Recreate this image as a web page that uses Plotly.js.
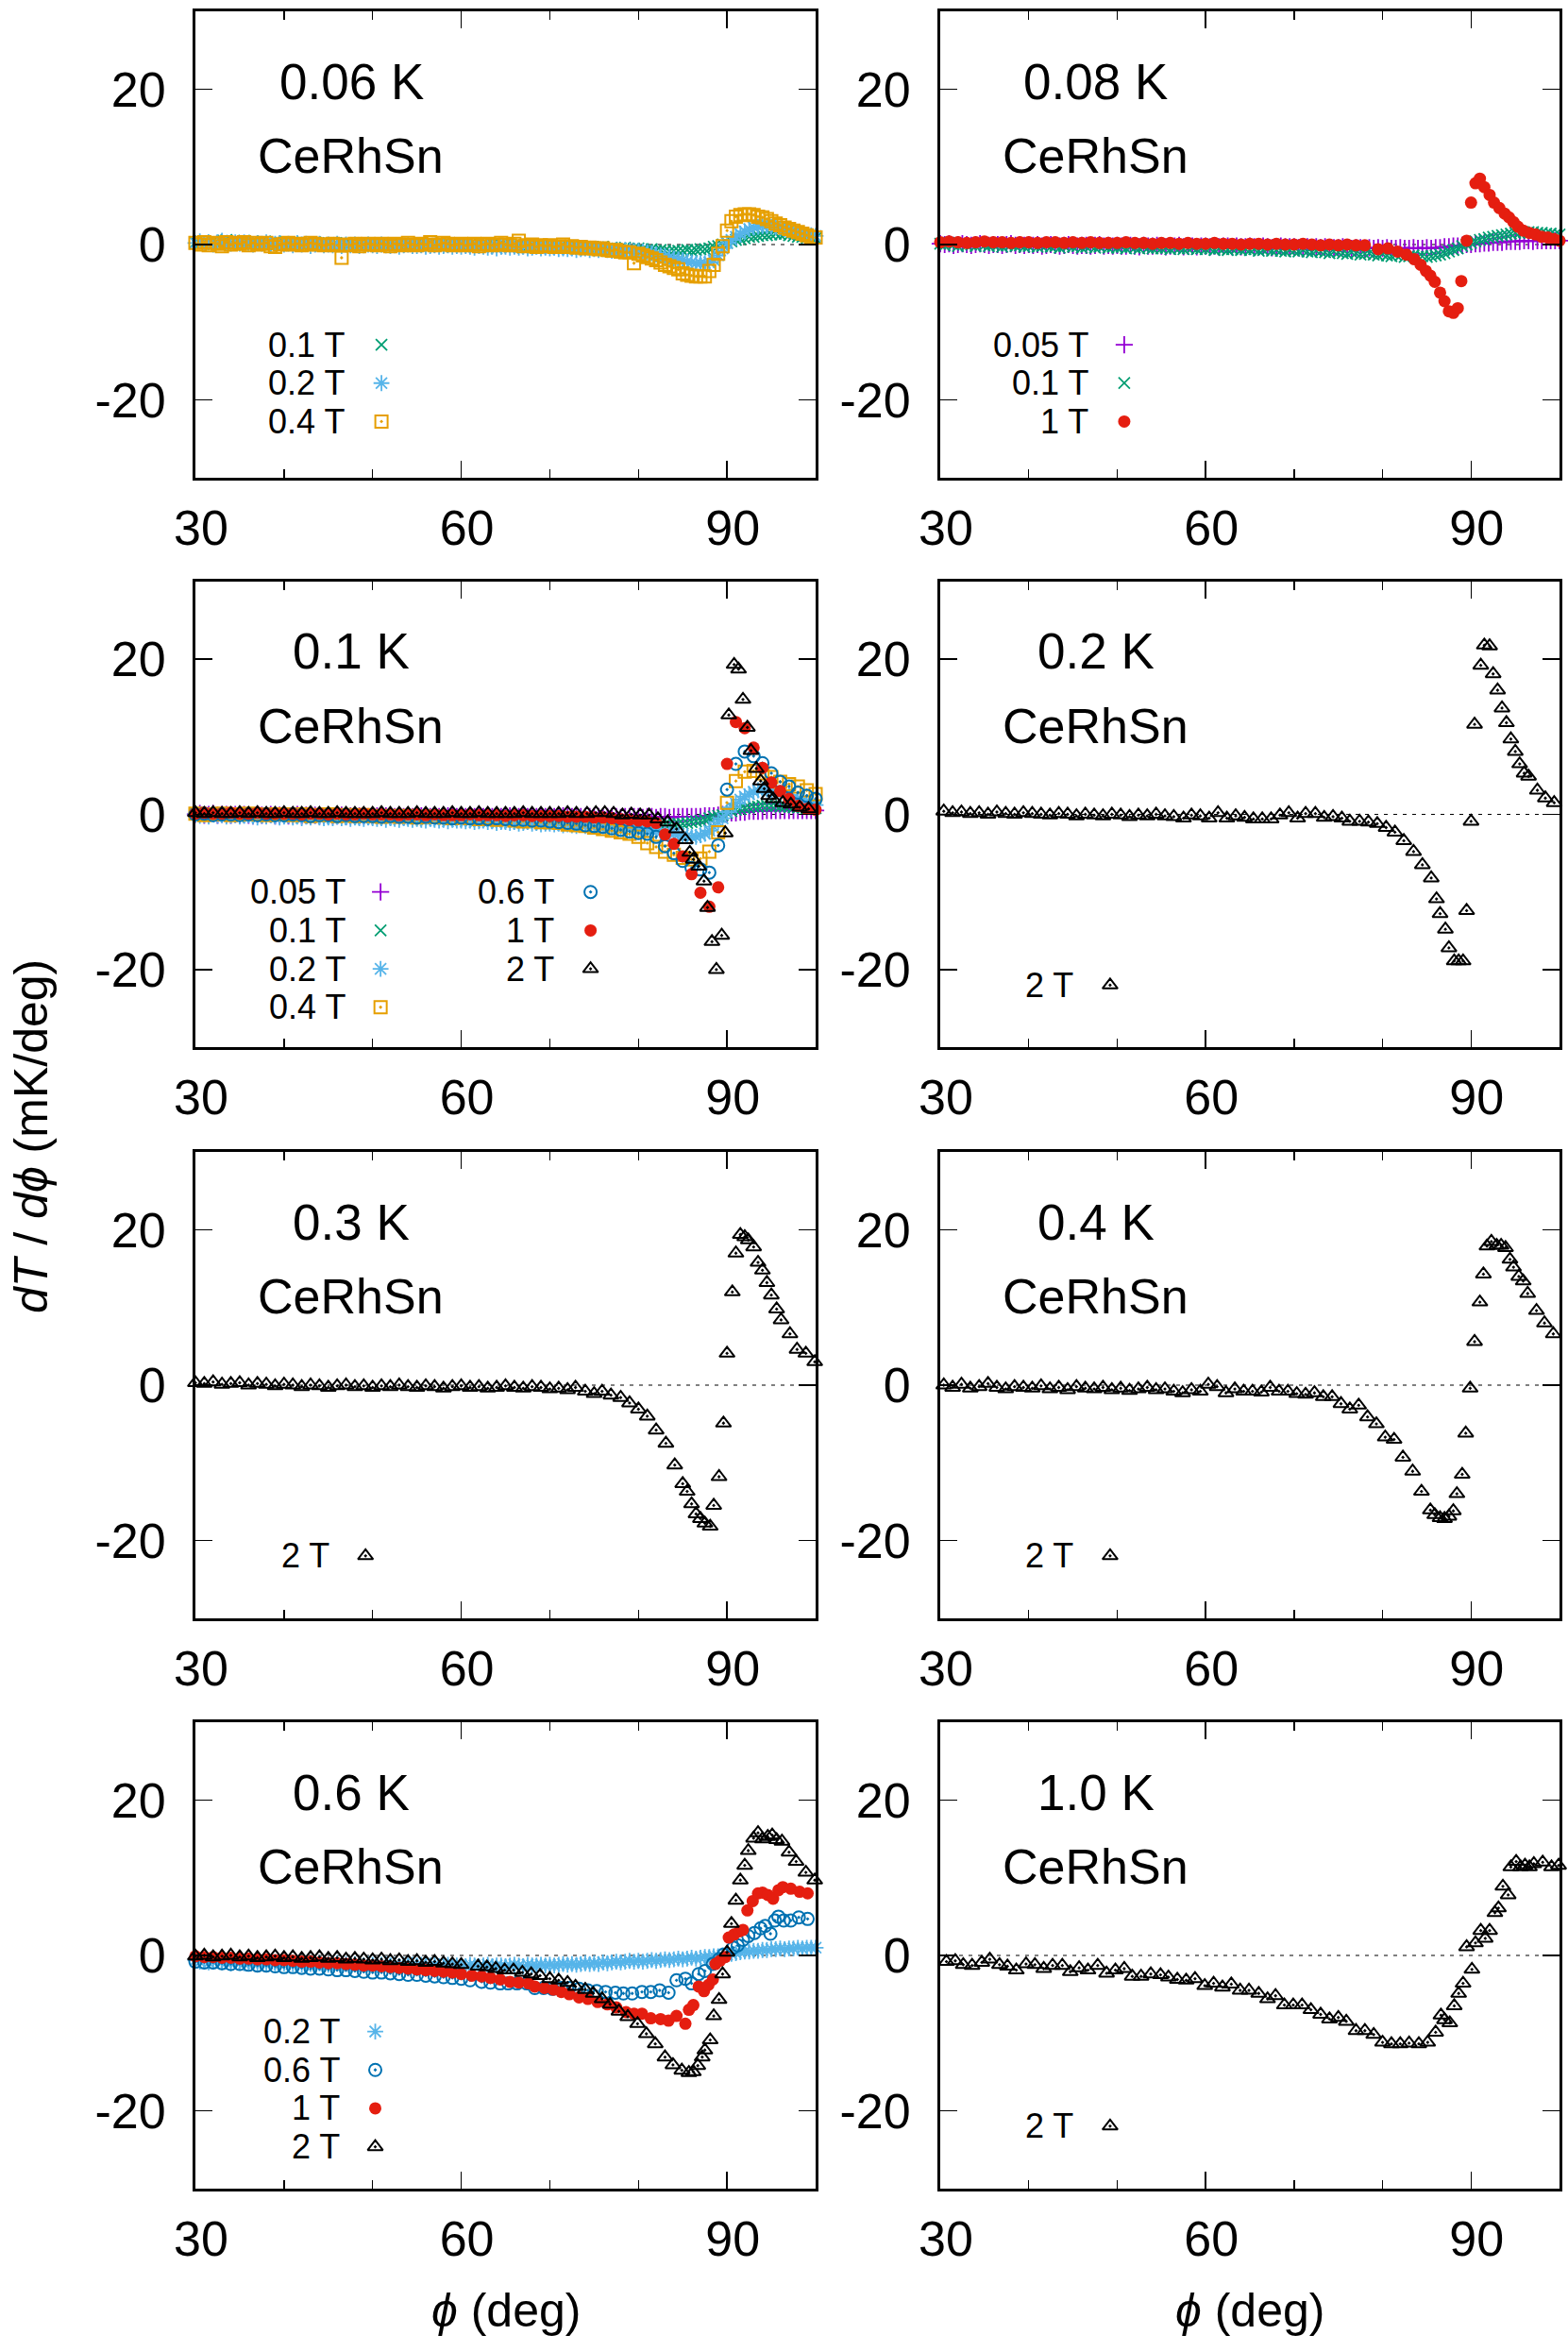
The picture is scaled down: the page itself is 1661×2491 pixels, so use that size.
<!DOCTYPE html>
<html>
<head>
<meta charset="utf-8">
<script src="https://cdn.plot.ly/plotly-3.0.1.min.js"></script>
<style>
  html, body { margin: 0; padding: 0; background: #fff; }
  #gd { width: 1661px; height: 2491px; }
</style>
</head>
<body>
<div id="gd"></div>
<script>
// ---------------- angle grids (deg) ----------------
const phiFine = [
  30,30.5,31,31.5,32,32.5,33,33.5,34,34.5, 35,35.5,36,36.5,37,37.5,38,38.5,39,39.5,
  40,40.5,41,41.5,42,42.5,43,43.5,44,44.5, 45,45.5,46,46.5,47,47.5,48,48.5,49,49.5,
  50,50.5,51,51.5,52,52.5,53,53.5,54,54.5, 55,55.5,56,56.5,57,57.5,58,58.5,59,59.5,
  60,60.5,61,61.5,62,62.5,63,63.5,64,64.5, 65,65.5,66,66.5,67,67.5,68,68.5,69,69.5,
  70,70.5,71,71.5,72,72.5,73,73.5,74,74.5, 75,75.5,76,76.5,77,77.5,78,78.5,79,79.5,
  80,80.5,81,81.5,82,82.5,83,83.5,84,84.5, 85,85.5,86,86.5,87,87.5,88,88.5,89,89.5,
  90,90.5,91,91.5,92,92.5,93,93.5,94,94.5, 95,95.5,96,96.5,97,97.5,98,98.5,99,99.5,
  100];
const phiCoarse = [
  30,31,32,33,34,35,36,37,38,39, 40,41,42,43,44,45,46,47,48,49,
  50,51,52,53,54,55,56,57,58,59, 60,61,62,63,64,65,66,67,68,69,
  70,71,72,73,74,75,76,77,78,79, 80,81,82,83,84,85,86,87,88,89,
  90,91,92,93,94,95,96,97,98,99, 100];

// ---------------- 0.06 K ----------------
const t006_b01 = [
  0.3,0.1,0.4,0.2,0.5,0.1,0.3,0.6,0.2,0.4, 0.3,0.5,0.1,0.4,0.2,0.3,0.0,0.2,0.4,0.1,
  0.2,0.0,0.3,0.1,-0.1,0.2,0.1,0.3,0.0,0.1, 0.2,-0.1,0.1,0.0,0.2,0.1,-0.1,0.0,0.2,0.1,
  0.0,0.1,-0.1,0.1,0.0,-0.2,0.1,0.0,-0.1,0.0, 0.1,-0.1,0.0,-0.2,0.0,-0.1,0.1,-0.1,-0.2,0.0,
  -0.1,-0.2,0.0,-0.1,-0.2,-0.1,0.0,-0.2,-0.3,-0.1, -0.2,-0.3,-0.1,-0.2,-0.4,-0.2,-0.3,-0.1,-0.3,-0.2,
  -0.3,-0.2,-0.4,-0.3,-0.2,-0.4,-0.3,-0.5,-0.3,-0.4, -0.4,-0.5,-0.3,-0.5,-0.4,-0.6,-0.5,-0.4,-0.6,-0.5,
  -0.5,-0.6,-0.7,-0.6,-0.8,-0.7,-0.8,-0.9,-0.8,-0.8, -0.8,-0.7,-0.8,-0.7,-0.6,-0.6,-0.5,-0.3,-0.2,0.0,
  0.2,0.4,0.6,0.7,0.8,1.0,1.0,1.1,1.2,1.2, 1.3,1.4,1.3,1.4,1.2,1.1,1.0,1.0,0.9,0.8,
  0.8];
const t006_b02 = [
  0.2,0.4,0.1,0.3,0.0,0.3,0.5,0.2,0.1,0.3, 0.1,0.3,0.2,0.0,0.2,0.1,0.3,0.0,0.1,0.2,
  0.0,0.1,-0.1,0.2,0.0,0.1,-0.2,0.0,0.1,-0.1, 0.0,-0.1,0.1,-0.2,0.0,-0.1,0.0,-0.2,-0.1,0.0,
  -0.1,-0.2,0.0,-0.1,-0.2,-0.1,-0.3,-0.1,0.0,-0.2, -0.2,-0.1,-0.3,-0.2,-0.1,-0.3,-0.2,-0.1,-0.3,-0.2,
  -0.3,-0.2,-0.3,-0.4,-0.2,-0.3,-0.4,-0.3,-0.5,-0.3, -0.3,-0.4,-0.3,-0.4,-0.3,-0.5,-0.4,-0.3,-0.5,-0.4,
  -0.5,-0.4,-0.6,-0.5,-0.6,-0.5,-0.7,-0.6,-0.5,-0.7, -0.6,-0.7,-0.6,-0.7,-0.8,-0.7,-0.8,-0.7,-0.8,-0.8,
  -0.8,-0.9,-1.0,-1.1,-1.3,-1.4,-1.5,-1.6,-1.8,-1.9, -2.0,-2.2,-2.3,-2.4,-2.4,-2.4,-2.3,-2.0,-1.4,-0.5,
  0.2,0.6,1.0,1.4,1.7,2.0,2.2,2.3,2.4,2.4, 2.3,2.2,2.1,2.0,1.8,1.7,1.6,1.4,1.3,1.2,
  1.1];
const t006_b04 = [
  0.2,0.0,0.3,-0.1,0.2,0.1,-0.2,0.3,0.0,0.2, 0.1,0.3,-0.1,0.2,0.0,0.1,0.2,-0.2,-0.3,0.0,
  0.1,0.2,0.0,0.1,-0.1,0.0,0.2,0.1,0.0,-0.1, 0.0,0.1,-0.1,-1.7,0.0,-0.1,0.1,-0.2,0.0,0.1,
  0.0,-0.1,0.1,0.0,-0.2,0.1,0.0,-0.1,0.2,0.0, -0.1,0.1,0.0,0.3,-0.1,0.0,0.2,0.1,-0.1,0.0,
  0.1,-0.1,0.0,0.1,-0.2,0.0,0.1,-0.1,0.0,0.2, 0.0,-0.1,0.1,0.5,-0.2,-0.1,0.0,-0.3,-0.1,-0.2,
  -0.1,-0.3,-0.2,0.0,-0.3,-0.2,-0.4,-0.3,-0.5,-0.4, -0.5,-0.6,-0.5,-0.7,-0.8,-0.7,-0.9,-1.0,-1.0,-2.4,
  -1.2,-1.4,-1.6,-1.8,-2.0,-2.3,-2.6,-2.8,-3.0,-3.2, -3.7,-3.9,-4.0,-4.1,-4.1,-4.1,-3.4,-2.6,-1.2,-0.2,
  1.8,3.0,3.6,3.8,3.9,3.9,3.8,3.6,3.5,3.3, 3.0,2.7,2.5,2.2,2.0,1.8,1.6,1.4,1.2,1.0,
  0.9];

// ---------------- 0.08 K ----------------
const t008_b005 = [
  0.1,0.0,0.1,-0.1,0.0,0.1,0.0,-0.1,0.0,0.1, 0.0,-0.1,0.0,0.0,-0.1,0.0,0.1,-0.1,0.0,-0.1,
  0.0,-0.1,0.0,-0.2,-0.1,0.0,-0.1,-0.2,-0.1,0.0, -0.1,-0.2,-0.1,-0.1,-0.2,-0.1,0.0,-0.2,-0.1,-0.2,
  -0.1,-0.2,-0.2,-0.1,-0.2,-0.3,-0.1,-0.2,-0.2,-0.1, -0.2,-0.3,-0.2,-0.2,-0.1,-0.3,-0.2,-0.2,-0.3,-0.2,
  -0.2,-0.3,-0.2,-0.3,-0.2,-0.2,-0.3,-0.2,-0.3,-0.3, -0.2,-0.3,-0.3,-0.2,-0.3,-0.4,-0.3,-0.2,-0.3,-0.3,
  -0.3,-0.4,-0.3,-0.3,-0.4,-0.3,-0.4,-0.3,-0.4,-0.4, -0.4,-0.3,-0.4,-0.5,-0.4,-0.4,-0.5,-0.4,-0.5,-0.4,
  -0.5,-0.4,-0.5,-0.5,-0.4,-0.5,-0.5,-0.4,-0.5,-0.5, -0.4,-0.5,-0.4,-0.4,-0.3,-0.3,-0.2,-0.2,-0.1,0.0,
  0.0,0.1,0.1,0.2,0.2,0.3,0.3,0.3,0.4,0.4, 0.4,0.4,0.5,0.5,0.4,0.5,0.5,0.5,0.5,0.5,
  0.5];
const t008_b01 = [
  0.1,-0.1,0.2,0.0,-0.2,0.1,-0.1,0.0,-0.2,0.1, -0.1,-0.2,0.0,-0.1,-0.3,-0.1,0.0,-0.2,-0.1,-0.3,
  -0.2,-0.1,-0.3,-0.2,-0.1,-0.3,-0.2,-0.4,-0.2,-0.1, -0.3,-0.2,-0.4,-0.3,-0.2,-0.4,-0.3,-0.2,-0.4,-0.3,
  -0.4,-0.3,-0.5,-0.3,-0.4,-0.5,-0.3,-0.4,-0.5,-0.4, -0.5,-0.4,-0.6,-0.4,-0.5,-0.6,-0.5,-0.4,-0.6,-0.5,
  -0.6,-0.5,-0.7,-0.5,-0.6,-0.7,-0.6,-0.5,-0.7,-0.6, -0.7,-0.6,-0.8,-0.7,-0.6,-0.8,-0.7,-0.8,-0.9,-0.7,
  -0.8,-0.9,-0.7,-0.9,-1.0,-0.8,-0.9,-1.0,-1.1,-0.9, -1.0,-1.1,-1.2,-1.0,-1.1,-1.3,-1.2,-1.1,-1.3,-1.4,
  -1.2,-1.4,-1.5,-1.3,-1.4,-1.6,-1.5,-1.4,-1.6,-1.5, -1.6,-1.5,-1.4,-1.3,-1.1,-0.9,-0.7,-0.5,-0.2,0.0,
  0.2,0.4,0.6,0.7,0.9,1.0,1.1,1.2,1.3,1.4, 1.5,1.5,1.6,1.6,1.6,1.5,1.5,1.4,1.4,1.3,
  1.3];
const t008_b1_phi = [
  30,31,32,33,34,35,36,37,38,39, 40,41,42,43,44,45,46,47,48,49,
  50,51,52,53,54,55,56,57,58,59, 60,61,62,63,64,65,66,67,68,69,
  70,71,72,73,74,75,76,77,78,
  79.5,80.6,81.7,82.7,83.6,84.3,84.9,85.4,85.9,86.5, 87.0,87.5,88.0,88.5,88.9,89.5,90.0,90.5,91.0,91.5,
  92.1,92.6,93.2,93.8,94.3,94.8,95.3,95.9,96.6,97.3, 98.0,98.7,99.4,100.0];
const t008_b1 = [
  0.3,0.4,0.3,0.2,0.3,0.4,0.3,0.3,0.2,0.3, 0.3,0.2,0.3,0.3,0.2,0.3,0.2,0.3,0.2,0.2,
  0.2,0.3,0.2,0.2,0.1,0.2,0.2,0.1,0.2,0.1, 0.1,0.2,0.1,0.1,0.0,0.1,0.1,0.0,0.1,0.0,
  0.0,0.1,0.0,-0.1,0.0,-0.1,0.0,-0.1,-0.1,
  -0.6,-0.5,-0.9,-1.3,-1.9,-2.6,-3.4,-4.0,-4.8,-6.2, -7.3,-8.6,-8.8,-8.2,-4.7,0.5,5.4,7.9,8.5,7.4,
  6.4,5.4,4.7,4.0,3.5,2.9,2.3,1.8,1.5,1.3, 1.0,0.9,0.7,0.5];

// ---------------- 0.1 K ----------------
const t01_b005 = [
  0.0,0.1,-0.1,0.0,0.1,-0.1,0.0,0.0,-0.1,0.0, -0.1,0.0,-0.1,-0.2,0.0,-0.1,-0.1,0.0,-0.2,-0.1,
  -0.1,-0.2,-0.1,0.0,-0.2,-0.1,-0.2,-0.1,-0.2,-0.2, -0.1,-0.2,-0.2,-0.1,-0.3,-0.2,-0.1,-0.2,-0.2,-0.3,
  -0.2,-0.2,-0.3,-0.2,-0.2,-0.3,-0.2,-0.3,-0.2,-0.3, -0.3,-0.2,-0.3,-0.3,-0.2,-0.3,-0.3,-0.2,-0.3,-0.3,
  -0.3,-0.3,-0.2,-0.3,-0.3,-0.3,-0.2,-0.3,-0.3,-0.3, -0.3,-0.2,-0.3,-0.3,-0.3,-0.3,-0.2,-0.3,-0.3,-0.3,
  -0.3,-0.3,-0.3,-0.2,-0.3,-0.3,-0.3,-0.3,-0.3,-0.3, -0.3,-0.3,-0.4,-0.3,-0.3,-0.3,-0.4,-0.3,-0.3,-0.3,
  -0.3,-0.4,-0.3,-0.3,-0.4,-0.3,-0.3,-0.4,-0.3,-0.3, -0.3,-0.3,-0.3,-0.3,-0.3,-0.2,-0.2,-0.2,-0.1,0.0,
  0.1,0.2,0.2,0.3,0.3,0.4,0.4,0.4,0.4,0.5, 0.5,0.5,0.5,0.5,0.5,0.5,0.5,0.5,0.5,0.5,
  0.5];
const t01_b01 = [
  0.1,-0.1,0.0,-0.2,0.1,-0.1,0.0,-0.2,-0.1,0.0, -0.2,-0.1,-0.3,0.0,-0.2,-0.1,-0.3,-0.2,-0.1,-0.3,
  -0.2,-0.3,-0.1,-0.2,-0.4,-0.2,-0.3,-0.1,-0.3,-0.2, -0.3,-0.4,-0.2,-0.3,-0.2,-0.4,-0.3,-0.2,-0.4,-0.3,
  -0.3,-0.2,-0.4,-0.3,-0.4,-0.3,-0.2,-0.4,-0.3,-0.4, -0.3,-0.4,-0.3,-0.5,-0.3,-0.4,-0.4,-0.3,-0.5,-0.4,
  -0.4,-0.3,-0.5,-0.4,-0.4,-0.5,-0.4,-0.3,-0.5,-0.4, -0.5,-0.4,-0.5,-0.4,-0.6,-0.5,-0.4,-0.5,-0.6,-0.5,
  -0.5,-0.6,-0.5,-0.6,-0.7,-0.6,-0.5,-0.7,-0.6,-0.7, -0.7,-0.8,-0.7,-0.8,-0.9,-0.8,-0.9,-1.0,-0.9,-1.0,
  -1.0,-1.1,-1.1,-1.2,-1.2,-1.3,-1.3,-1.3,-1.3,-1.2, -1.2,-1.1,-1.0,-0.9,-0.8,-0.7,-0.5,-0.3,-0.2,-0.1,
  0.2,0.4,0.6,0.7,0.8,0.9,1.0,1.0,1.1,1.1, 1.1,1.1,1.0,1.0,1.0,0.9,0.9,0.9,0.8,0.8,
  0.8];
const t01_b02 = [
  0.0,-0.2,-0.1,-0.3,0.0,-0.2,-0.1,-0.3,-0.2,-0.1, -0.3,-0.2,-0.1,-0.3,-0.4,-0.2,-0.3,-0.1,-0.3,-0.4,
  -0.3,-0.2,-0.4,-0.3,-0.5,-0.3,-0.4,-0.2,-0.4,-0.5, -0.4,-0.5,-0.3,-0.5,-0.4,-0.6,-0.4,-0.5,-0.6,-0.4,
  -0.5,-0.6,-0.5,-0.7,-0.5,-0.6,-0.7,-0.5,-0.6,-0.7, -0.6,-0.7,-0.8,-0.6,-0.7,-0.8,-0.7,-0.9,-0.7,-0.8,
  -0.8,-0.9,-0.8,-1.0,-0.9,-0.8,-1.0,-0.9,-1.1,-1.0, -1.0,-1.1,-1.0,-1.2,-1.1,-1.0,-1.2,-1.1,-1.3,-1.2,
  -1.2,-1.3,-1.2,-1.4,-1.3,-1.4,-1.5,-1.3,-1.5,-1.4, -1.5,-1.6,-1.5,-1.7,-1.6,-1.7,-1.8,-1.7,-1.8,-1.9,
  -1.9,-2.0,-2.0,-2.1,-2.2,-2.3,-2.3,-2.4,-2.5,-2.6, -2.7,-2.8,-2.9,-2.9,-2.7,-2.5,-2.1,-1.6,-1.0,-0.5,
  0.3,0.9,1.4,1.9,2.3,2.6,2.9,3.1,3.2,3.2, 3.1,2.9,2.8,2.6,2.4,2.2,2.0,1.8,1.6,1.4,
  1.2];
const t01_b04 = [
  0.1,-0.1,0.0,0.1,-0.1,0.0,0.1,0.0,-0.1,0.0, 0.0,-0.1,0.0,-0.2,-0.1,0.0,-0.2,-0.1,-0.2,-0.1,
  -0.2,-0.3,-0.2,-0.3,-0.2,-0.4,-0.3,-0.3,-0.4,-0.5, -0.4,-0.5,-0.6,-0.5,-0.7,-0.6,-0.8,-0.9,-0.8,-1.0,
  -1.0,-1.1,-1.3,-1.4,-1.5,-1.7,-1.9,-2.1,-2.3,-2.5, -2.9,-3.7,-4.2,-4.8,-5.2,-5.6,-5.8,-5.7,-4.8,-2.3,
  1.5,4.3,5.5,5.6,5.3,4.8,4.2,3.9,3.6,3.1, 2.6];
const t01_b06 = [
  0.0,0.1,-0.1,0.0,0.0,-0.1,0.0,-0.1,0.0,-0.1, -0.1,0.0,-0.1,-0.2,-0.1,-0.1,-0.2,-0.1,-0.2,-0.2,
  -0.2,-0.3,-0.2,-0.3,-0.3,-0.4,-0.3,-0.4,-0.4,-0.5, -0.4,-0.5,-0.5,-0.6,-0.5,-0.6,-0.7,-0.7,-0.8,-0.8,
  -0.9,-1.0,-1.1,-1.2,-1.4,-1.5,-1.6,-1.8,-2.0,-2.2, -2.4,-2.5,-2.9,-4.1,-5.0,-6.0,-6.9,-7.1,-7.5,-4.0,
  3.2,6.5,8.1,7.5,6.6,5.3,4.2,3.6,2.8,2.4, 2.0];
const t01_b1 = [
  0.1,0.2,0.1,0.1,0.2,0.1,0.1,0.2,0.1,0.1, 0.1,0.1,0.0,0.1,0.1,0.0,0.1,0.0,0.0,0.1,
  0.0,0.0,0.0,-0.1,0.0,0.0,-0.1,0.0,-0.1,-0.1, -0.1,0.0,-0.1,-0.1,-0.1,-0.2,-0.1,-0.1,-0.2,-0.2,
  -0.2,-0.2,-0.3,-0.3,-0.3,-0.4,-0.4,-0.5,-0.6,-0.7, -0.8,-0.9,-1.1,-2.6,-3.8,-5.4,-7.7,-10.1,-11.9,-9.4,
  6.5,11.9,11.1,8.6,6.0,4.1,3.0,2.0,1.1,0.7, 0.6];
const t01_b2_phi = [
  30,31,32,33,34,35,36,37,38,39, 40,41,42,43,44,45,46,47,48,49,
  50,51,52,53,54,55,56,57,58,59, 60,61,62,63,64,65,66,67,68,69,
  70,71,72,73,
  74.2,75.2,76.2,77.2,78.2,79.2,80.2,81.2,82.2,83.3, 84.3,85.3,85.8,86.2,86.8,87.4,87.8,88.3,88.8,89.4,
  89.8,90.2,90.8,91.3,91.8,92.3,92.7,93.3,93.8,94.2, 94.7,95.2,96.3,97.2,98.2,99.2];
const t01_b2 = [
  0.2,0.1,0.2,0.1,0.1,0.2,0.1,0.2,0.1,0.1, 0.2,0.1,0.1,0.2,0.1,0.1,0.2,0.1,0.1,0.1,
  0.1,0.2,0.1,0.1,0.1,0.2,0.1,0.1,0.1,0.2, 0.1,0.1,0.2,0.1,0.1,0.1,0.1,0.2,0.1,0.1,
  0.1,0.1,0.2,0.1,
  0.1,0.2,0.2,0.1,-0.1,0.0,-0.1,-0.1,-0.6,-1.0, -1.9,-3.3,-4.9,-5.8,-6.7,-8.6,-12.0,-16.4,-20.0,-15.6,
  -2.4,12.8,19.3,18.7,14.8,11.2,8.2,5.9,4.3,3.3, 2.4,2.0,1.5,1.3,0.9,0.7];

// ---------------- 0.2 K ----------------
const t02_b2_phi = [
  30.4,31.4,32.4,33.4,34.4,35.4,36.4,37.4,38.4,39.4, 40.4,41.4,42.4,43.4,44.4,45.4,46.4,47.4,48.4,49.4,
  50.4,51.4,52.4,53.4,54.4,55.4,56.4,
  57.5,58.4,59.4,60.4,61.4,62.4,63.4,64.4,65.4,66.4, 67.4,68.4,69.4,70.4,71.3,72.4,73.4,74.4,75.4,76.3,
  77.4,78.4,79.4,80.4,81.4,82.4,83.5,84.5,85.5,86.1, 86.5,87.1,87.5,88.1,88.6,89.1,89.5,90.0,90.4,91.1,
  91.5,92.1,92.5,93.0,93.5,94.0,94.5,95.0,95.5,96.0, 96.5,97.5,98.4,99.4];
const t02_b2 = [
  0.4,0.2,0.3,0.1,0.2,0.0,0.3,0.1,0.0,0.2, 0.1,0.0,-0.1,0.1,0.0,-0.2,0.0,-0.1,-0.2,0.0,
  -0.1,-0.3,-0.1,-0.2,0.0,-0.2,-0.3,
  -0.5,-0.1,-0.2,-0.5,0.2,-0.5,-0.2,-0.4,-0.6,-0.6, -0.6,-0.1,0.2,-0.5,0.1,0.1,-0.4,-0.3,-0.5,-0.9,
  -0.9,-1.0,-1.2,-1.7,-2.3,-3.4,-4.8,-6.5,-8.2,-10.9, -12.8,-14.8,-17.2,-18.9,-18.9,-18.9,-12.4,-0.9,11.6,19.2,
  21.8,21.7,18.1,16.0,13.7,11.8,9.7,8.1,6.5,5.3, 4.9,3.1,2.1,1.5];

// ---------------- 0.3 K ----------------
const t03_b2_phi = [
  30,31,32,33,34,35,36,37,38,39, 40,41,42,43,44,45,46,47,48,49,
  50,51,52,53,54,55,56,57,58,59, 60,61,62,63,64,65,66,67,68,69,
  70,71,
  72.0,72.9,74.0,75.0,75.9,76.9,78.0,79.0,80.0,81.0, 82.0,83.1,84.1,85.0,85.5,86.0,86.5,87.0,87.5,88.1,
  88.5,89.1,89.6,90.0,90.6,91.0,91.5,92.0,92.4,93.0, 93.5,94.0,94.5,95.0,95.6,96.1,97.1,97.9,98.9,99.9];
const t03_b2 = [
  0.3,0.2,0.4,0.1,0.2,0.3,0.0,0.2,0.1,-0.1, 0.1,0.0,-0.2,0.0,-0.1,-0.3,-0.1,0.0,-0.2,-0.1,
  -0.3,-0.1,-0.2,0.0,-0.2,-0.3,-0.1,-0.2,-0.4,-0.2, -0.1,-0.3,-0.2,-0.4,-0.3,-0.1,-0.3,-0.4,-0.2,-0.3,
  -0.5,-0.4,
  -0.6,-0.3,-0.8,-1.1,-0.8,-1.3,-1.6,-2.3,-3.1,-4.0, -5.8,-7.5,-10.3,-12.7,-13.7,-15.3,-16.6,-17.2,-17.8,-18.2,
  -15.5,-11.8,-4.9,4.1,12.0,17.0,19.4,19.1,18.7,17.8, 15.8,14.8,13.2,11.6,9.8,8.4,6.6,4.6,4.1,3.0];

// ---------------- 0.4 K ----------------
const t04_b2_phi = [
  30.4,31.4,32.4,33.4,34.4,35.4,36.4,37.4,38.4,39.4, 40.4,41.4,42.4,43.4,44.4,45.4,46.4,47.4,48.4,49.4,
  50.4,51.4,52.4,53.4,54.4,55.4,56.4,
  57.4,58.4,59.4,60.3,61.3,62.3,63.3,64.3,65.3,66.3, 67.3,68.3,69.3,70.3,71.3,72.3,73.3,74.3,75.3,76.3,
  77.3,78.3,79.3,80.3,81.3,82.3,83.4,84.4,85.4,85.9, 86.5,87.0,87.5,88.0,88.4,89.0,89.4,89.9,90.4,91.0,
  91.4,91.8,92.3,92.9,93.4,93.9,94.4,94.8,95.4,95.9, 96.4,97.4,98.3,99.3];
const t04_b2 = [
  0.0,-0.3,0.1,-0.4,-0.2,0.2,-0.3,-0.5,-0.2,-0.3, -0.4,-0.1,-0.5,-0.3,-0.6,-0.2,-0.4,-0.5,-0.3,-0.6,
  -0.4,-0.7,-0.5,-0.3,-0.6,-0.5,-0.8,
  -1.0,-0.6,-0.8,0.1,-0.2,-1.0,-0.5,-0.8,-0.8,-0.9, -0.3,-0.8,-0.8,-1.1,-1.2,-1.0,-1.5,-1.5,-2.4,-3.1,
  -2.6,-4.1,-5.0,-6.7,-7.0,-9.3,-11.1,-13.7,-16.1,-16.7, -17.1,-17.2,-16.9,-16.2,-14.0,-11.5,-6.2,-0.4,5.6,10.7,
  14.3,17.9,18.5,18.0,18.0,17.7,16.2,15.2,14.0,13.4, 11.8,9.6,8.0,6.6];

// ---------------- 0.6 K ----------------
const t06_b02 = [
  -0.6,-0.8,-0.7,-0.9,-0.8,-0.7,-0.9,-0.8,-1.0,-0.8, -0.9,-1.0,-0.8,-0.9,-1.0,-0.9,-1.1,-0.9,-1.0,-1.1,
  -1.0,-0.9,-1.1,-1.0,-1.2,-1.0,-1.1,-1.2,-1.0,-1.1, -1.2,-1.1,-1.0,-1.2,-1.1,-1.3,-1.1,-1.2,-1.3,-1.1,
  -1.2,-1.3,-1.2,-1.1,-1.3,-1.2,-1.4,-1.2,-1.3,-1.2, -1.3,-1.2,-1.4,-1.3,-1.2,-1.4,-1.3,-1.2,-1.4,-1.3,
  -1.3,-1.4,-1.2,-1.3,-1.4,-1.3,-1.2,-1.4,-1.3,-1.3, -1.4,-1.3,-1.2,-1.3,-1.4,-1.2,-1.3,-1.3,-1.2,-1.3,
  -1.2,-1.3,-1.2,-1.1,-1.2,-1.1,-1.2,-1.1,-1.0,-1.1, -1.0,-1.1,-0.9,-1.0,-0.9,-0.8,-0.9,-0.8,-0.7,-0.8,
  -0.7,-0.8,-0.7,-0.6,-0.7,-0.6,-0.5,-0.6,-0.5,-0.4, -0.5,-0.4,-0.3,-0.4,-0.3,-0.2,-0.2,-0.1,-0.1,0.0,
  0.1,0.2,0.3,0.4,0.5,0.5,0.6,0.6,0.7,0.7, 0.8,0.8,0.9,0.8,0.9,0.9,1.0,0.9,1.0,1.0,
  1.0];
const t06_b06_phi = [
  30,31,32,33,34,35,36,37,38,39, 40,41,42,43,44,45,46,47,48,49,
  50,51,52,53,54,55,56,57,58,59, 60,61,
  62.3,63.3,64.4,65.3,66.3,67.4,68.3,69.3,70.3,71.3, 72.2,73.3,74.3,75.3,76.3,77.4,78.3,79.3,80.4,81.4,
  82.4,83.4,84.3,85.3,86.0,86.8,87.5,88.4,89.1,89.6, 90.7,91.2,91.8,92.4,93.1,93.8,94.3,94.9,95.4,95.8,
  96.4,97.2,98.1,99.1];
const t06_b06 = [
  -0.8,-0.9,-0.9,-1.0,-1.1,-1.1,-1.2,-1.3,-1.3,-1.4, -1.5,-1.5,-1.6,-1.7,-1.7,-1.8,-1.9,-1.9,-2.0,-2.1,
  -2.2,-2.2,-2.3,-2.4,-2.5,-2.5,-2.6,-2.7,-2.8,-2.9, -3.0,-3.2,
  -3.4,-3.5,-3.6,-3.6,-3.6,-3.6,-4.2,-4.2,-4.3,-4.2, -4.2,-4.3,-4.5,-4.6,-4.7,-4.8,-4.9,-4.9,-4.7,-4.7,
  -4.5,-4.8,-3.2,-3.0,-3.6,-2.4,-2.0,-1.1,-0.5,0.1, 1.0,1.3,2.0,2.5,2.9,3.5,3.8,2.8,4.5,5.0,
  4.5,4.5,4.9,4.7];
const t06_b1_phi = [
  30,31,32,33,34,35,36,37,38,39, 40,41,42,43,44,45,46,47,48,49,
  50,51,52,53,54,55,56,57,58,59, 60,
  61.2,62.3,63.3,64.4,65.5,66.5,67.6,68.3,69.4,70.4, 71.3,72.2,73.3,74.3,75.4,76.5,77.5,78.6,79.5,80.4,
  81.4,82.5,83.4,84.3,85.3,85.7,86.2,86.8,87.4,87.9, 88.4,88.7,89.2,89.8,90.2,90.8,91.4,91.8,92.3,92.9,
  93.5,94.0,94.6,95.2,95.8,96.3,97.2,98.2,99.1];
const t06_b1 = [
  -0.1,-0.2,-0.2,-0.3,-0.3,-0.4,-0.4,-0.5,-0.5,-0.6, -0.6,-0.7,-0.8,-0.8,-0.9,-1.0,-1.0,-1.1,-1.2,-1.3,
  -1.3,-1.4,-1.5,-1.6,-1.7,-1.8,-1.9,-2.0,-2.1,-2.2, -2.4,
  -2.6,-2.7,-2.9,-3.1,-3.4,-3.5,-3.6,-4.0,-4.2,-4.4, -4.7,-5.0,-5.4,-5.6,-6.0,-6.3,-6.7,-7.3,-7.5,-7.5,
  -8.1,-8.2,-8.4,-7.8,-8.8,-7.0,-6.4,-4.0,-4.6,-3.8, -3.1,-1.1,-0.7,-0.2,2.3,2.7,3.1,3.3,5.8,7.0,
  8.0,8.1,7.8,7.3,8.4,8.8,8.6,8.2,8.0];
const t06_b2_phi = [
  30,31,32,33,34,35,36,37,38,39, 40,41,42,43,44,45,46,47,48,49,
  50,51,52,53,54,55,56,57,58,59, 60,
  61.9,62.9,63.9,64.9,65.9,66.9,67.9,68.9,70.0,71.0, 72.0,72.9,74.0,74.9,75.9,76.8,77.8,78.8,79.9,80.9,
  81.9,83.0,83.9,84.9,85.7,86.2,86.7,87.2,87.5,88.1, 88.5,89.1,89.5,90.0,90.5,91.0,91.5,92.0,92.4,93.0,
  93.5,94.0,94.6,95.1,95.6,96.2,97.0,97.8,98.9,99.9];
const t06_b2 = [
  -0.1,0.0,-0.2,-0.1,0.0,-0.2,-0.1,-0.3,-0.2,-0.1, -0.3,-0.2,-0.4,-0.3,-0.2,-0.4,-0.3,-0.5,-0.4,-0.5,
  -0.6,-0.5,-0.7,-0.6,-0.8,-0.7,-0.9,-0.8,-1.0,-1.1, -1.2,
  -1.4,-1.5,-1.7,-1.9,-1.9,-2.2,-2.4,-2.6,-3.0,-3.2, -3.5,-4.0,-4.4,-4.9,-5.6,-6.3,-7.2,-7.9,-8.8,-10.1,
  -11.4,-13.1,-14.1,-14.8,-15.1,-15.0,-14.2,-13.1,-12.2,-10.9, -7.8,-5.7,-2.4,0.4,4.1,7.1,9.7,11.6,13.5,15.1,
  15.8,15.0,15.3,15.5,14.9,14.7,13.3,12.1,10.7,9.7];

// ---------------- 1.0 K ----------------
const t10_b2_phi = [
  30.7,31.7,32.6,33.6,34.7,35.6,36.7,37.6,38.6,39.7, 40.7,41.7,42.7,43.8,44.7,45.7,46.7,47.8,48.8,49.8,
  50.8,51.7,52.7,53.8,54.9,55.8,56.8,57.8,58.8,59.9, 60.9,61.9,62.9,63.9,64.9,66.0,67.0,67.9,68.9,69.9,
  70.9,71.9,73.0,74.0,75.0,75.9,77.0,78.0,79.0,80.0, 81.0,82.0,83.0,84.1,85.1,86.0,86.6,87.0,87.6,88.1,
  88.6,89.1,89.5,90.1,90.5,91.1,91.6,92.1,92.7,93.1, 93.6,94.2,94.5,95.1,95.6,96.1,96.6,97.1,98.1,99.1,
  99.9];
const t10_b2 = [
  -0.8,-0.7,-1.2,-1.3,-0.9,-0.5,-1.2,-1.4,-1.9,-1.1, -1.2,-1.7,-1.3,-1.3,-2.1,-1.6,-1.9,-1.3,-2.3,-1.9,
  -1.7,-2.7,-2.7,-2.4,-2.5,-2.8,-3.1,-3.2,-3.0,-3.9, -3.6,-4.1,-3.7,-4.5,-4.5,-4.9,-5.6,-5.2,-6.4,-6.4,
  -6.4,-7.0,-7.6,-8.2,-8.0,-8.5,-9.7,-9.7,-10.2,-11.2, -11.4,-11.4,-11.3,-11.4,-11.2,-9.9,-7.7,-8.3,-8.7,-6.5,
  -4.9,-3.6,1.1,-1.8,1.6,3.2,2.2,3.2,5.5,6.1, 8.9,7.8,11.4,12.1,11.4,11.6,11.4,11.8,12.0,11.4,
  11.6];

// ---------------- styles ----------------
const FONT = 'Liberation Sans, Arial, Helvetica, sans-serif';
// gnuplot default line colours / point types per field
const fieldStyle = {
  '0.05 T': {symbol: 'cross-thin-open', color: '#9400d3', size: 13, lw: 1.8},
  '0.1 T':  {symbol: 'x-thin-open', color: '#009e73', size: 12, lw: 1.8},
  '0.2 T':  {symbol: 'asterisk-open', color: '#56b4e9', size: 14, lw: 1.8},
  '0.4 T':  {symbol: 'square-open-dot', color: '#e69f00', size: 13, lw: 2},
  '0.6 T':  {symbol: 'circle-open-dot', color: '#0072b2', size: 13, lw: 2},
  '1 T':    {symbol: 'circle', color: '#e51e10', size: 13, lw: 0},
  '2 T':    {symbol: 'triangle-up-open-dot', color: '#000000', size: 14, lw: 2}
};

const panels = [
  {temp: '0.06 K', series: [['0.1 T', phiFine, t006_b01], ['0.2 T', phiFine, t006_b02], ['0.4 T', phiFine, t006_b04]],
   key: [{tx: 46.9, mx: 51.0, y0: -12.9, items: ['0.1 T', '0.2 T', '0.4 T']}]},
  {temp: '0.08 K', series: [['0.05 T', phiFine, t008_b005], ['0.1 T', phiFine, t008_b01], ['1 T', t008_b1_phi, t008_b1]],
   key: [{tx: 46.9, mx: 50.8, y0: -12.9, items: ['0.05 T', '0.1 T', '1 T']}]},
  {temp: '0.1 K', series: [['0.05 T', phiFine, t01_b005], ['0.1 T', phiFine, t01_b01], ['0.2 T', phiFine, t01_b02],
                           ['0.4 T', phiCoarse, t01_b04], ['0.6 T', phiCoarse, t01_b06], ['1 T', phiCoarse, t01_b1],
                           ['2 T', t01_b2_phi, t01_b2]],
   key: [{tx: 47.0, mx: 50.9, y0: -10.0, items: ['0.05 T', '0.1 T', '0.2 T', '0.4 T']},
         {tx: 70.6, mx: 74.6, y0: -10.0, items: ['0.6 T', '1 T', '2 T']}]},
  {temp: '0.2 K', series: [['2 T', t02_b2_phi, t02_b2]],
   key: [{tx: 45.2, mx: 49.2, y0: -22.0, items: ['2 T']}]},
  {temp: '0.3 K', series: [['2 T', t03_b2_phi, t03_b2]],
   key: [{tx: 45.2, mx: 49.2, y0: -22.0, items: ['2 T']}]},
  {temp: '0.4 K', series: [['2 T', t04_b2_phi, t04_b2]],
   key: [{tx: 45.2, mx: 49.2, y0: -22.0, items: ['2 T']}]},
  {temp: '0.6 K', series: [['0.2 T', phiFine, t06_b02], ['0.6 T', t06_b06_phi, t06_b06],
                           ['1 T', t06_b1_phi, t06_b1], ['2 T', t06_b2_phi, t06_b2]],
   key: [{tx: 46.4, mx: 50.3, y0: -9.8, items: ['0.2 T', '0.6 T', '1 T', '2 T']}]},
  {temp: '1.0 K', series: [['2 T', t10_b2_phi, t10_b2]],
   key: [{tx: 45.2, mx: 49.2, y0: -22.0, items: ['2 T']}]}
];

const KEY_STEP = -4.95;
const KEY_FONT = 36;
const colDomains = [[0.12462, 0.52017], [0.59964, 0.99458]];
const rowDomains = [[0.79703, 0.99502], [0.55476, 0.75275], [0.31208, 0.51008], [0.06961, 0.26760]];

const layout = {
  width: 1661, height: 2491,
  margin: {l: 0, r: 0, t: 0, b: 0},
  paper_bgcolor: '#ffffff', plot_bgcolor: '#ffffff',
  showlegend: false,
  font: {family: FONT, size: 50, color: '#000'},
  annotations: [], shapes: []
};
const traces = [];

function markerOf(field) {
  const s = fieldStyle[field];
  return {symbol: s.symbol, size: s.size, color: s.color,
          line: {color: s.color, width: s.lw}};
}

panels.forEach(function (pn, p) {
  const row = Math.floor(p / 2), col = p % 2;
  const sfx = p === 0 ? '' : String(p + 1);
  const xa = 'x' + sfx, ya = 'y' + sfx;

  layout['xaxis' + sfx] = {
    domain: colDomains[col], anchor: ya, range: [30, 100],
    tickmode: 'linear', tick0: 30, dtick: 30,
    ticks: 'inside', ticklen: 18, tickwidth: 1.5, tickcolor: '#000',
    minor: {dtick: 10, tick0: 30, ticks: 'inside', ticklen: 9, tickwidth: 1.5, tickcolor: '#000'},
    showline: true, linewidth: 3, linecolor: '#000', mirror: 'allticks',
    showgrid: false, zeroline: false, fixedrange: true,
    tickfont: {family: FONT, size: 52, color: '#000'}, ticklabelstandoff: 6, ticklabelshift: 6
  };
  layout['yaxis' + sfx] = {
    domain: rowDomains[row], anchor: xa, range: [-30, 30],
    tickmode: 'array', tickvals: [-20, 0, 20], ticktext: ['-20', '0', '20'],
    ticks: 'inside', ticklen: 18, tickwidth: 1.5, tickcolor: '#000',
    showline: true, linewidth: 3, linecolor: '#000', mirror: 'allticks',
    showgrid: false, zeroline: false, fixedrange: true,
    tickfont: {family: FONT, size: 52, color: '#000'}, ticklabelstandoff: 18
  };

  // dotted zero line
  layout.shapes.push({type: 'line', xref: xa + ' domain', x0: 0, x1: 1, yref: ya, y0: 0, y1: 0,
                      line: {color: '#000', width: 1, dash: '4px,6px'}, layer: 'below'});

  pn.series.forEach(function (s) {
    traces.push({type: 'scatter', mode: 'markers', x: s[1], y: s[2], xaxis: xa, yaxis: ya,
                 name: s[0], marker: markerOf(s[0]), cliponaxis: false, hoverinfo: 'skip'});
  });

  layout.annotations.push({xref: xa, yref: ya, x: 47.6, y: 21.0, text: pn.temp, showarrow: false,
                           xanchor: 'center', yanchor: 'middle', font: {family: FONT, size: 53, color: '#000'}});
  layout.annotations.push({xref: xa, yref: ya, x: 47.5, y: 11.4, text: 'CeRhSn', showarrow: false,
                           xanchor: 'center', yanchor: 'middle', font: {family: FONT, size: 52, color: '#000'}});

  // key: text right-aligned, sample point to its right (gnuplot style)
  pn.key.forEach(function (kc) {
    kc.items.forEach(function (lab, i) {
      const ky = kc.y0 + i * KEY_STEP;
      traces.push({type: 'scatter', mode: 'markers', x: [kc.mx], y: [ky], xaxis: xa, yaxis: ya,
                   marker: markerOf(lab), cliponaxis: false, hoverinfo: 'skip', showlegend: false});
      layout.annotations.push({xref: xa, yref: ya, x: kc.tx, y: ky, text: lab, showarrow: false,
                               xanchor: 'right', yanchor: 'middle', borderpad: 0,
                               font: {family: FONT, size: KEY_FONT, color: '#000'}});
    });
  });
});

// shared axis titles
layout.annotations.push({xref: 'paper', yref: 'paper', x: 0.0199, y: 0.5167, textangle: -90,
                         text: '<i>dT</i> / <i>d\u03d5</i> (mK/deg)', showarrow: false,
                         xanchor: 'center', yanchor: 'middle', font: {family: FONT, size: 50, color: '#000'}});
[0.3224, 0.7970].forEach(function (xc) {
  layout.annotations.push({xref: 'paper', yref: 'paper', x: xc, y: 0.0177,
                           text: '<i>\u03d5</i> (deg)', showarrow: false,
                           xanchor: 'center', yanchor: 'middle', font: {family: FONT, size: 50, color: '#000'}});
});

Plotly.newPlot('gd', traces, layout, {staticPlot: true, displayModeBar: false});
</script>
</body>
</html>
